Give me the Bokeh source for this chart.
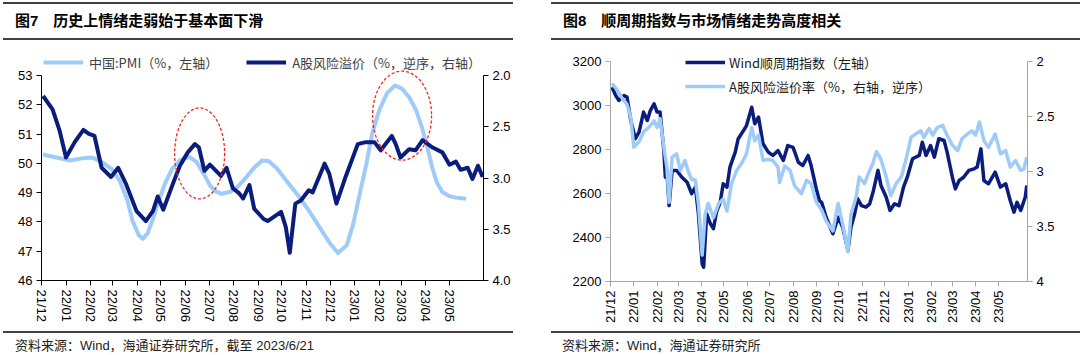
import math
import pandas as pd
from bokeh.plotting import figure
from bokeh.models import (Range1d, LinearAxis, FixedTicker, NumeralTickFormatter,
                          Legend, LegendItem, Div, ColumnDataSource)
from bokeh.layouts import row, column
from bokeh.embed import file_html
from bokeh.resources import INLINE

# ---------------- data : 图7 ----------------
tick_months = ["2021-12-01", "2022-01-01", "2022-02-01", "2022-03-01", "2022-04-01", "2022-05-01",
               "2022-06-01", "2022-07-01", "2022-08-01", "2022-09-01", "2022-10-01", "2022-11-01",
               "2022-12-01", "2023-01-01", "2023-02-01", "2023-03-01", "2023-04-01", "2023-05-01"]
tick_labels = ["21/12", "22/01", "22/02", "22/03", "22/04", "22/05", "22/06", "22/07", "22/08",
               "22/09", "22/10", "22/11", "22/12", "23/01", "23/02", "23/03", "23/04", "23/05"]

pmi_dates = ["2021-12-03", "2021-12-20", "2022-01-06", "2022-01-21", "2022-02-03", "2022-02-15",
             "2022-02-28", "2022-03-10", "2022-03-19", "2022-03-26", "2022-04-03", "2022-04-08",
             "2022-04-14", "2022-04-21", "2022-04-28", "2022-05-06", "2022-05-15", "2022-05-25",
             "2022-06-06", "2022-06-15", "2022-06-24", "2022-07-02", "2022-07-09", "2022-07-17",
             "2022-07-27", "2022-08-06", "2022-08-17", "2022-08-27", "2022-09-06", "2022-09-14",
             "2022-09-24", "2022-10-07", "2022-10-23", "2022-11-05", "2022-11-17", "2022-11-30",
             "2022-12-11", "2022-12-22", "2022-12-30", "2023-01-07", "2023-01-16", "2023-01-23",
             "2023-02-01", "2023-02-11", "2023-02-21", "2023-03-02", "2023-03-11", "2023-03-20",
             "2023-03-27", "2023-04-03", "2023-04-09", "2023-04-15", "2023-04-22", "2023-05-01",
             "2023-05-09", "2023-05-22"]
pmi_values = [50.30, 50.20, 50.10, 50.17, 50.20, 50.05, 49.80, 49.40, 48.80, 48.05, 47.55, 47.42,
              47.60, 48.10, 48.70, 49.30, 49.80, 50.10, 50.22, 50.05, 49.65, 49.25, 49.05, 48.96,
              49.02, 49.20, 49.53, 49.85, 50.10, 50.08, 49.85, 49.40, 48.85, 48.35, 47.85, 47.30,
              46.94, 47.20, 47.90, 48.90, 50.00, 51.00, 51.80, 52.40, 52.66, 52.55, 52.26, 51.80,
              51.24, 50.55, 49.87, 49.35, 49.02, 48.88, 48.83, 48.79]

erp7_dates = ["2021-12-03", "2021-12-15", "2021-12-24", "2022-01-01", "2022-01-12", "2022-01-23",
              "2022-01-30", "2022-02-06", "2022-02-15", "2022-02-27", "2022-03-08", "2022-03-18",
              "2022-03-31", "2022-04-12", "2022-04-21", "2022-04-27", "2022-05-04", "2022-05-16",
              "2022-05-25", "2022-06-04", "2022-06-13", "2022-06-18", "2022-06-25", "2022-07-02",
              "2022-07-16", "2022-07-23", "2022-07-31", "2022-08-08", "2022-08-13", "2022-08-21",
              "2022-08-27", "2022-09-08", "2022-09-13", "2022-09-30", "2022-10-06", "2022-10-11",
              "2022-10-18", "2022-10-25", "2022-11-04", "2022-11-09", "2022-11-24", "2022-11-30",
              "2022-12-09", "2022-12-21", "2023-01-05", "2023-01-15", "2023-01-26", "2023-02-03",
              "2023-02-17", "2023-02-22", "2023-02-28", "2023-03-11", "2023-03-19", "2023-03-28",
              "2023-04-09", "2023-04-22", "2023-05-01", "2023-05-09", "2023-05-15", "2023-05-24",
              "2023-05-30", "2023-06-06", "2023-06-12"]
erp7_values = [2.20, 2.33, 2.54, 2.80, 2.65, 2.53, 2.57, 2.59, 2.90, 2.99, 2.90, 3.06,
               3.32, 3.42, 3.32, 3.18, 3.31, 3.06, 2.88, 2.75, 2.67, 2.70, 2.93, 2.87,
               2.98, 2.90, 3.10, 3.15, 3.20, 3.07, 3.30, 3.40, 3.42, 3.33, 3.48, 3.73,
               3.25, 3.22, 3.12, 3.14, 2.86, 2.96, 3.25, 2.98, 2.67, 2.65, 2.65, 2.73,
               2.59, 2.67, 2.80, 2.72, 2.73, 2.63, 2.70, 2.75, 2.87, 2.84, 2.92, 2.90,
               3.01, 2.88, 2.99]

# ---------------- data : 图8 ----------------
cyc_dates = ["2021-12-03", "2021-12-08", "2021-12-12", "2021-12-19", "2021-12-23", "2021-12-28",
             "2022-01-03", "2022-01-08", "2022-01-14", "2022-01-19", "2022-01-23", "2022-01-28",
             "2022-02-01", "2022-02-05", "2022-02-10", "2022-02-12", "2022-02-14", "2022-02-17",
             "2022-02-21", "2022-02-27", "2022-03-06", "2022-03-13", "2022-03-19", "2022-03-24",
             "2022-03-28", "2022-04-02", "2022-04-04", "2022-04-08", "2022-04-13", "2022-04-17",
             "2022-04-21", "2022-04-26", "2022-04-30", "2022-05-05", "2022-05-09", "2022-05-16",
             "2022-05-20", "2022-05-27", "2022-05-31", "2022-06-07", "2022-06-11", "2022-06-16",
             "2022-06-22", "2022-06-29", "2022-07-05", "2022-07-12", "2022-07-19", "2022-07-25",
             "2022-08-01", "2022-08-08", "2022-08-14", "2022-08-21", "2022-08-25", "2022-09-01",
             "2022-09-05", "2022-09-08", "2022-09-14", "2022-09-23", "2022-09-30", "2022-10-06",
             "2022-10-13", "2022-10-17", "2022-10-22", "2022-10-26", "2022-10-31", "2022-11-06",
             "2022-11-11", "2022-11-16", "2022-11-22", "2022-11-26", "2022-12-03", "2022-12-08",
             "2022-12-14", "2022-12-20", "2022-12-26", "2022-12-31", "2023-01-07", "2023-01-16",
             "2023-01-20", "2023-01-25", "2023-01-31", "2023-02-05", "2023-02-11", "2023-02-18",
             "2023-02-22", "2023-03-01", "2023-03-05", "2023-03-10", "2023-03-16", "2023-03-23",
             "2023-03-30", "2023-04-03", "2023-04-08", "2023-04-12", "2023-04-18", "2023-04-27",
             "2023-05-04", "2023-05-11", "2023-05-17", "2023-05-22", "2023-05-26", "2023-05-31",
             "2023-06-06", "2023-06-08"]
cyc_values = [3083, 3045, 3023, 3045, 3038, 2932, 2849, 2879, 2970, 2932, 2977, 3008,
              2970, 2970, 2795, 2674, 2705, 2545, 2705, 2705, 2674, 2651, 2599, 2629,
              2508, 2280, 2265, 2508, 2462, 2440, 2515, 2560, 2644, 2629, 2720, 2788,
              2849, 2886, 2909, 2992, 2917, 2947, 2826, 2788, 2773, 2795, 2750, 2818,
              2810, 2742, 2727, 2773, 2727, 2620, 2568, 2560, 2492, 2417, 2492, 2447,
              2341, 2447, 2508, 2576, 2545, 2538, 2553, 2614, 2705, 2636, 2583, 2523,
              2553, 2545, 2629, 2674, 2758, 2773, 2833, 2773, 2818, 2765, 2849, 2841,
              2788, 2674, 2621, 2659, 2674, 2705, 2712, 2720, 2803, 2659, 2644, 2697,
              2629, 2644, 2568, 2515, 2560, 2523, 2583, 2636]

erp8_dates = ["2021-12-03", "2021-12-10", "2021-12-17", "2021-12-23", "2021-12-28", "2022-01-01",
              "2022-01-08", "2022-01-14", "2022-01-21", "2022-01-28", "2022-02-01", "2022-02-05",
              "2022-02-10", "2022-02-14", "2022-02-17", "2022-02-21", "2022-02-27", "2022-03-04",
              "2022-03-10", "2022-03-15", "2022-03-19", "2022-03-24", "2022-03-28", "2022-04-02",
              "2022-04-06", "2022-04-10", "2022-04-17", "2022-04-24", "2022-04-30", "2022-05-05",
              "2022-05-11", "2022-05-18", "2022-05-25", "2022-05-31", "2022-06-07", "2022-06-11",
              "2022-06-16", "2022-06-22", "2022-06-29", "2022-07-05", "2022-07-12", "2022-07-14",
              "2022-07-21", "2022-07-28", "2022-08-03", "2022-08-12", "2022-08-19", "2022-08-25",
              "2022-09-01", "2022-09-08", "2022-09-14", "2022-09-23", "2022-09-30", "2022-10-06",
              "2022-10-13", "2022-10-17", "2022-10-24", "2022-10-28", "2022-11-04", "2022-11-11",
              "2022-11-15", "2022-11-20", "2022-11-26", "2022-12-03", "2022-12-09", "2022-12-16",
              "2022-12-23", "2022-12-29", "2023-01-05", "2023-01-11", "2023-01-18", "2023-01-22",
              "2023-01-29", "2023-02-03", "2023-02-09", "2023-02-16", "2023-02-22", "2023-03-01",
              "2023-03-08", "2023-03-14", "2023-03-21", "2023-03-27", "2023-04-01", "2023-04-06",
              "2023-04-12", "2023-04-18", "2023-04-27", "2023-05-04", "2023-05-11", "2023-05-17",
              "2023-05-24", "2023-05-31", "2023-06-04", "2023-06-08"]
erp8_values = [2.20, 2.26, 2.34, 2.39, 2.51, 2.78, 2.73, 2.64, 2.60, 2.54, 2.60, 2.52,
               2.78, 2.96, 3.28, 2.87, 2.84, 2.99, 2.90, 3.01, 3.07, 3.08, 3.29, 3.76,
               3.39, 3.29, 3.42, 3.29, 3.25, 3.36, 3.11, 2.99, 2.92, 2.84, 2.60, 2.72,
               2.67, 2.90, 2.89, 2.90, 2.96, 3.10, 2.95, 2.99, 3.13, 3.20, 3.08, 3.11,
               3.28, 3.35, 3.45, 3.54, 3.29, 3.48, 3.73, 3.39, 3.23, 3.05, 3.11, 2.99,
               2.93, 2.82, 2.89, 3.05, 3.22, 3.11, 3.05, 2.90, 2.69, 2.66, 2.63, 2.69,
               2.61, 2.67, 2.60, 2.58, 2.67, 2.76, 2.81, 2.70, 2.66, 2.63, 2.67, 2.55,
               2.72, 2.78, 2.66, 2.84, 2.81, 2.96, 2.90, 2.99, 2.98, 2.87]

# annotation ellipses (centre date, centre value on left axis)
ellipse_dates = ["2022-06-19", "2023-03-02"]
ellipse_values = [50.34, 51.63]


def ms(d):
    return pd.Timestamp(d).value / 1e6


def mslist(ds):
    return [ms(d) for d in ds]


NAVY = "#0B1D7C"
LIGHT = "#9ECBF7"
CJK = "Noto Sans CJK SC"
NUM = "Liberation Sans"
tick_ms = mslist(tick_months)


def style_axis(ax, color):
    ax.axis_line_color = color
    ax.axis_line_width = 1
    ax.major_tick_line_color = color
    ax.minor_tick_line_color = None
    ax.major_tick_out = 5
    ax.major_tick_in = 0
    ax.major_label_text_font = NUM
    ax.major_label_text_font_size = "13px"
    ax.major_label_text_color = "#000000"
    ax.major_label_standoff = 4


# ---------------- figure 7 ----------------
# axis spans 205 px for 46..53; the frame extends 25 px above it to hold the legend
H7, EXTRA7 = 205, 25
p1 = figure(frame_width=442, frame_height=H7 + EXTRA7, output_backend="svg", toolbar_location=None,
            x_range=Range1d(ms("2021-12-01"), ms("2023-06-13")),
            y_range=Range1d(46, 53 + EXTRA7 * 7 / H7),
            min_border_left=41, min_border_right=68, min_border_top=10, min_border_bottom=51,
            margin=(0, 0, 0, 0))
p1.outline_line_color = None
p1.xgrid.visible = False
p1.ygrid.visible = False
p1.extra_y_ranges = {"erp": Range1d(4.0, 2.0 - EXTRA7 * 2 / H7)}

src_pmi = ColumnDataSource(dict(x=mslist(pmi_dates), y=pmi_values))
src_erp7 = ColumnDataSource(dict(x=mslist(erp7_dates), y=erp7_values))
r_pmi = p1.line("x", "y", source=src_pmi, line_color=LIGHT, line_width=4, line_join="round")
r_erp7 = p1.line("x", "y", source=src_erp7, line_color=NAVY, line_width=4, line_join="round",
                 y_range_name="erp")
p1.ellipse(x=mslist(ellipse_dates), y=ellipse_values, width=[50, 59], height=[91, 89],
           width_units="screen", height_units="screen", fill_color=None,
           line_color="#FF2020", line_dash="3 2", line_width=1.3)

p1.yaxis.ticker = FixedTicker(ticks=[46, 47, 48, 49, 50, 51, 52, 53])
p1.yaxis.bounds = (46, 53)
style_axis(p1.yaxis[0], "#000000")
p1.xaxis.ticker = FixedTicker(ticks=tick_ms)
p1.xaxis.major_label_overrides = {t: l for t, l in zip(tick_ms, tick_labels)}
p1.xaxis.major_label_orientation = -math.pi / 2
style_axis(p1.xaxis[0], "#000000")
ax1r = LinearAxis(y_range_name="erp", ticker=FixedTicker(ticks=[2.0, 2.5, 3.0, 3.5, 4.0]),
                  formatter=NumeralTickFormatter(format="0.0"), bounds=(2.0, 4.0))
style_axis(ax1r, "#000000")
p1.add_layout(ax1r, "right")

leg1 = Legend(items=[LegendItem(label="中国:PMI（%，左轴）", renderers=[r_pmi]),
                     LegendItem(label="A股风险溢价（%，逆序，右轴）", renderers=[r_erp7])],
              orientation="horizontal", location=(2, 208), padding=0, margin=0, spacing=28,
              glyph_width=40, glyph_height=20, label_height=20, label_standoff=6,
              border_line_color=None, background_fill_alpha=0,
              label_text_font=CJK, label_text_font_size="13px", label_text_color="#404040")
p1.add_layout(leg1)

# ---------------- figure 8 ----------------
# axis spans 220 px for 2200..3200; frame extends 10 px above it for the legend
H8, EXTRA8 = 220, 10
p2 = figure(frame_width=417, frame_height=H8 + EXTRA8, output_backend="svg", toolbar_location=None,
            x_range=Range1d(ms("2021-12-01"), ms("2023-06-09")),
            y_range=Range1d(2200, 3200 + EXTRA8 * 1000 / H8),
            min_border_left=59, min_border_right=53, min_border_top=11, min_border_bottom=50,
            margin=(0, 0, 0, 0))
p2.outline_line_color = None
p2.xgrid.visible = False
p2.ygrid.visible = False
p2.extra_y_ranges = {"erp": Range1d(4.0, 2.0 - EXTRA8 * 2 / H8)}

src_cyc = ColumnDataSource(dict(x=mslist(cyc_dates), y=cyc_values))
src_erp8 = ColumnDataSource(dict(x=mslist(erp8_dates), y=erp8_values))
r_cyc = p2.line("x", "y", source=src_cyc, line_color=NAVY, line_width=3.5, line_join="round")
r_erp8 = p2.line("x", "y", source=src_erp8, line_color=LIGHT, line_width=3.5, line_join="round",
                 y_range_name="erp")

p2.yaxis.ticker = FixedTicker(ticks=[2200, 2400, 2600, 2800, 3000, 3200])
p2.yaxis.bounds = (2200, 3200)
style_axis(p2.yaxis[0], "#A6A6A6")
p2.xaxis.ticker = FixedTicker(ticks=tick_ms)
p2.xaxis.major_label_overrides = {t: l for t, l in zip(tick_ms, tick_labels)}
p2.xaxis.major_label_orientation = math.pi / 2
style_axis(p2.xaxis[0], "#A6A6A6")
ax2r = LinearAxis(y_range_name="erp", ticker=FixedTicker(ticks=[2.0, 2.5, 3.0, 3.5, 4.0]),
                  formatter=NumeralTickFormatter(format="0.[0]"), bounds=(2.0, 4.0))
style_axis(ax2r, "#A6A6A6")
p2.add_layout(ax2r, "right")

leg2 = Legend(items=[LegendItem(label="Wind顺周期指数（左轴）", renderers=[r_cyc]),
                     LegendItem(label="A股风险溢价率（%，右轴，逆序）", renderers=[r_erp8])],
              orientation="vertical", location=(75, 185), padding=0, margin=0, spacing=4,
              glyph_width=40, glyph_height=20, label_height=20, label_standoff=4,
              border_line_color=None, background_fill_alpha=0,
              label_text_font=CJK, label_text_font_size="13px", label_text_color="#1A1A1A")
p2.add_layout(leg2)

# ---------------- headers / footers ----------------
FONT = "'Liberation Sans','Noto Sans CJK SC',sans-serif"


def header(text, width, left, pad):
    html = (f'<div style="box-sizing:border-box;margin:2px 0 0 {left}px;width:{width - left}px;'
            f'height:38px;border-top:2px solid #404040;border-bottom:2px solid #404040;'
            f'padding-left:{pad}px;font-family:{FONT};font-weight:bold;font-size:15px;'
            f'line-height:34px;color:#000;white-space:nowrap;">{text}</div>')
    return Div(text=html, width=width, height=40, margin=(0, 0, 0, 0))


def footer(text, width, left, pad):
    html = (f'<div style="box-sizing:border-box;margin:0 0 0 {left}px;width:{width - left}px;'
            f'height:24px;border-top:2px solid #404040;padding-left:{pad}px;padding-top:4px;'
            f'font-family:{FONT};font-size:13px;line-height:18px;color:#222;'
            f'white-space:nowrap;">{text}</div>')
    return Div(text=html, width=width, height=24, margin=(0, 0, 0, 0))


col1 = column(header("图7&emsp;历史上情绪走弱始于基本面下滑", 513, 3, 12), p1,
              footer("资料来源：Wind，海通证券研究所，截至 2023/6/21", 513, 3, 12),
              spacing=0, margin=(0, 0, 0, 0))
col2 = column(header("图8&emsp;顺周期指数与市场情绪走势高度相关", 529, 0, 12), p2,
              footer("资料来源：Wind，海通证券研究所", 529, 0, 11),
              spacing=0, margin=(0, 0, 0, 0))
layout = row(col1, col2, spacing=0, margin=(0, 0, 0, 0))

open("out.html", "w").write(file_html(layout, INLINE))
